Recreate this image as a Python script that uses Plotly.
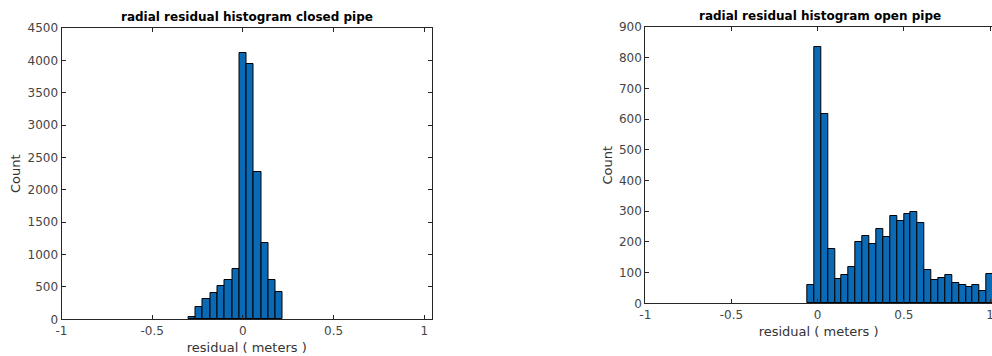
import plotly.graph_objects as go

# ---- data ----
closed_centers = [-0.28, -0.24, -0.20, -0.16, -0.12, -0.08, -0.04, 0.00, 0.04, 0.08, 0.12, 0.16, 0.20]
closed_counts = [40, 185, 320, 410, 515, 610, 770, 4110, 3940, 2280, 1175, 605, 420]

open_centers = [-0.04, 0.00, 0.04, 0.08, 0.12, 0.16, 0.20, 0.24, 0.28, 0.32, 0.36, 0.40, 0.44, 0.48,
                0.52, 0.56, 0.60, 0.64, 0.68, 0.72, 0.76, 0.80, 0.84, 0.88, 0.92, 0.96, 1.00]
open_counts = [59, 834, 616, 178, 80, 93, 117, 199, 219, 193, 243, 217, 286, 268,
               290, 299, 262, 109, 77, 83, 91, 67, 59, 54, 59, 40, 96]

bin_width = 0.04
x_ticks = [-1, -0.5, 0, 0.5, 1]
x_tick_text = ["-1", "-0.5", "0", "0.5", "1"]
closed_y_ticks = list(range(0, 4501, 500))
open_y_ticks = list(range(0, 901, 100))

W, H = 992, 356
BAR_COLOR = "#0a6ab5"
AX_COLOR = "#262626"
TICK_FONT = dict(family="DejaVu Sans", size=12, color="#444444")

fig = go.Figure()
fig.add_trace(go.Bar(x=closed_centers, y=closed_counts, width=bin_width,
                     marker=dict(color=BAR_COLOR, line=dict(color="black", width=1)),
                     xaxis="x", yaxis="y", showlegend=False))
fig.add_trace(go.Bar(x=open_centers, y=open_counts, width=bin_width,
                     marker=dict(color=BAR_COLOR, line=dict(color="black", width=1)),
                     xaxis="x2", yaxis="y2", showlegend=False))

def px_x(p):
    return p / W

def px_y(p):
    return 1 - p / H

common_x = dict(tickmode="array", tickvals=x_ticks, ticktext=x_tick_text, ticks="inside",
                ticklen=4, tickcolor=AX_COLOR, showline=True, linecolor=AX_COLOR, linewidth=1,
                mirror="ticks", showgrid=False, zeroline=False, tickfont=TICK_FONT,
                automargin=False, ticklabeloverflow="allow",
                title=dict(text="residual ( meters )",
                           font=dict(family="DejaVu Sans", size=13, color="#333333"),
                           standoff=6))
common_y = dict(ticks="inside", ticklen=4, tickcolor=AX_COLOR, showline=True, linecolor=AX_COLOR,
                linewidth=1, showgrid=False, zeroline=False, tickfont=TICK_FONT,
                automargin=False,
                title=dict(text="Count", font=dict(family="DejaVu Sans", size=13, color="#333333"),
                           standoff=3))

fig.update_layout(
    width=W, height=H,
    margin=dict(l=0, r=0, t=0, b=0, autoexpand=False),
    paper_bgcolor="white", plot_bgcolor="white",
    bargap=0,
    xaxis=dict(common_x, domain=[px_x(61.5), px_x(432)], range=[-1, 1.0425], anchor="y"),
    yaxis=dict(common_y, domain=[px_y(319.3), px_y(28)], range=[0, 4500],
               tickmode="array", tickvals=closed_y_ticks, mirror="ticks", anchor="x"),
    xaxis2=dict(common_x, domain=[px_x(645.3), 1.0], range=[-1, 1.0116], anchor="y2"),
    yaxis2=dict(common_y, domain=[px_y(303.3), px_y(27)], range=[0, 900],
                tickmode="array", tickvals=open_y_ticks, mirror=False, anchor="x2"),
    annotations=[
        dict(text="<b>radial residual histogram closed pipe</b>", x=(61.5 + 432) / 2 / W,
             y=px_y(17), xref="paper", yref="paper", showarrow=False, xanchor="center",
             font=dict(family="DejaVu Sans", size=12, color="black"), yanchor="middle"),
        dict(text="<b>radial residual histogram open pipe</b>", x=(645.3 + 995) / 2 / W,
             y=px_y(16), xref="paper", yref="paper", showarrow=False, xanchor="center",
             font=dict(family="DejaVu Sans", size=12, color="black"), yanchor="middle"),
    ],
)

fig.write_html("out.html", config={"displayModeBar": False},
               post_script="document.body.style.margin='0';document.body.style.overflow='hidden';")
